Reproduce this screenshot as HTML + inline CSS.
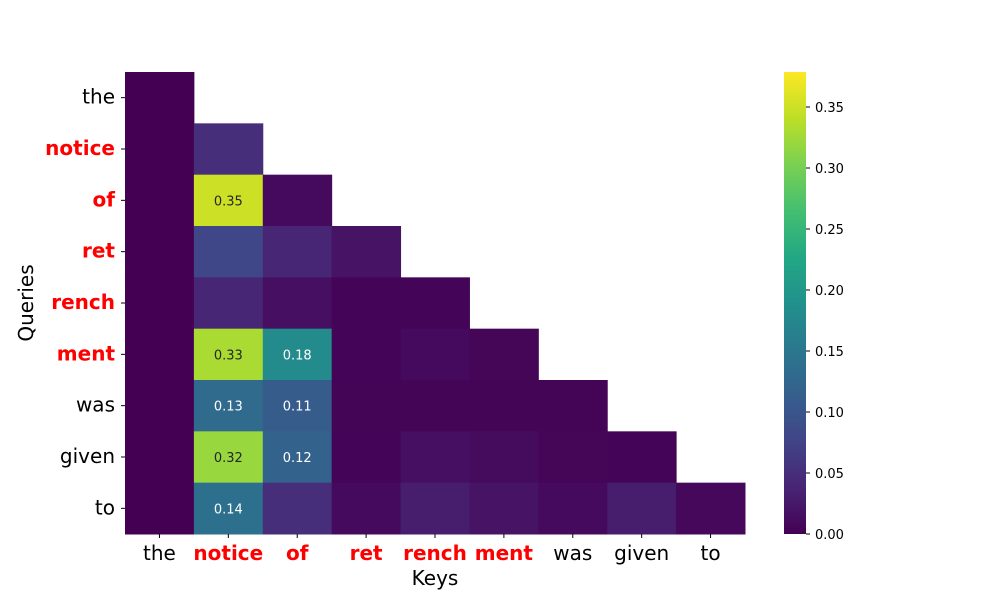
<!DOCTYPE html>
<html><head><meta charset="utf-8"><style>body{margin:0;background:#fff}svg{font-family:"DejaVu Sans","Liberation Sans",sans-serif}</style></head>
<body>
<svg id="chart" width="1000" height="600">
<defs><linearGradient id="cb" x1="0" y1="1" x2="0" y2="0"></linearGradient></defs>
<g id="cells"></g><g id="ylabels"></g><g id="xlabels"></g><g id="cbar"></g>
<text x="435" y="585" font-size="20" text-anchor="middle">Keys</text>
<text x="0" y="0" font-size="20" text-anchor="middle" transform="translate(33,303) rotate(-90)">Queries</text>
</svg>
<script>
const tokens = ["the","notice","of","ret","rench","ment","was","given","to"];
const highlighted = [false,true,true,true,true,true,false,false,false];
const row0 = [0.0];
const row1 = [0.0,0.05];
const row2 = [0.0,0.35,0.01];
const row3 = [0.0,0.08,0.04,0.02];
const row4 = [0.0,0.04,0.015,0.003,0.003];
const row5 = [0.0,0.33,0.18,0.003,0.01,0.005];
const row6 = [0.0,0.13,0.11,0.004,0.004,0.004,0.004];
const row7 = [0.0,0.32,0.12,0.003,0.015,0.012,0.005,0.003];
const row8 = [0.0,0.14,0.05,0.01,0.03,0.02,0.01,0.03,0.008];
const rows = [row0,row1,row2,row3,row4,row5,row6,row7,row8];
const cbTicks = [0,0.05,0.1,0.15,0.2,0.25,0.3,0.35];
const vmax = 0.3787;
const VIR = ["#440154","#482475","#414487","#355f8d","#2a788e","#21918c","#22a884","#44bf70","#7ad151","#bddf26","#fde725"];
function hex(h){return [1,3,5].map(i=>parseInt(h.substr(i,2),16));}
function cmap(v){let t=Math.max(0,Math.min(1,v/vmax))*10;let i=Math.min(9,Math.floor(t));let f=t-i;let a=hex(VIR[i]),b=hex(VIR[i+1]);return "rgb("+a.map((c,k)=>Math.round(c+(b[k]-c)*f)).join(",")+")";}
const X0=125,X1=745,Y0=72,Y1=534,n=tokens.length,cw=(X1-X0)/n,ch=(Y1-Y0)/n;
const xs=j=>X0+j*cw, ys=i=>Y0+i*ch;
const NS="http://www.w3.org/2000/svg";
function mk(tag,attrs,parent){const e=document.createElementNS(NS,tag);for(const k in attrs)e.setAttribute(k,attrs[k]);parent.appendChild(e);return e;}
const cells=document.getElementById('cells');
rows.forEach((r,i)=>r.forEach((v,j)=>{
 const rc=mk('rect',{x:xs(j),y:ys(i),width:cw+0.5,height:ch+0.5,fill:cmap(v)},cells);
 
 
 if(v>=0.1){const t=mk('text',{x:xs(j)+cw/2,y:ys(i)+ch/2+5,'font-size':13,'text-anchor':'middle',fill:v>0.25?'#262626':'#fff'},cells);t.textContent=v.toFixed(2);
 
 }
}));
const yl=document.getElementById('ylabels'),xl=document.getElementById('xlabels');
tokens.forEach((tk,i)=>{
 const c=highlighted[i]?'red':'#000',w=highlighted[i]?'bold':'normal';
 mk('line',{x1:X0-4,x2:X0,y1:ys(i)+ch/2,y2:ys(i)+ch/2,stroke:'#000'},yl);
 const t=mk('text',{x:X0-10,y:ys(i)+ch/2+6,'font-size':20,'text-anchor':'end',fill:c,'font-weight':w},yl);t.textContent=tk;
 
 
 mk('line',{x1:xs(i)+cw/2,x2:xs(i)+cw/2,y1:Y1,y2:Y1+4,stroke:'#000'},xl);
 const u=mk('text',{x:xs(i)+cw/2,y:Y1+26,'font-size':20,'text-anchor':'middle',fill:c,'font-weight':w},xl);u.textContent=tk;
 
 
});
const g=document.getElementById('cb');
VIR.forEach((c,k)=>mk('stop',{offset:k/10,'stop-color':c},g));
const cb=document.getElementById('cbar');
const CX=784,CW=22;
const cr=mk('rect',{x:CX,y:Y0,width:CW,height:Y1-Y0,fill:'url(#cb)'},cb);


const cy=v=>Y1-(v/vmax)*(Y1-Y0);
cbTicks.forEach(v=>{
 mk('line',{x1:CX+CW,x2:CX+CW+4,y1:cy(v),y2:cy(v),stroke:'#000'},cb);
 const t=mk('text',{x:CX+CW+9,y:cy(v)+5,'font-size':13},cb);t.textContent=v.toFixed(2);
 
 
});
</script>
</body></html>
